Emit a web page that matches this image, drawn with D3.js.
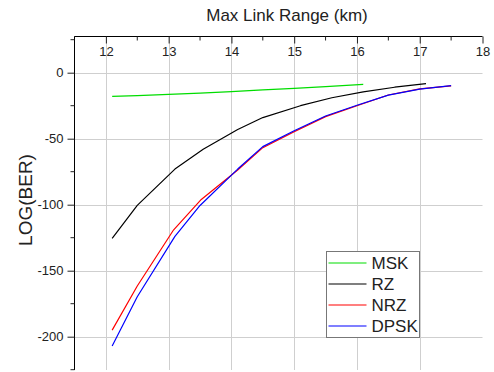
<!DOCTYPE html>
<html>
<head>
<meta charset="utf-8">
<script src="https://cdn.jsdelivr.net/npm/d3@7/dist/d3.min.js"></script>
<style>
  html, body { margin: 0; padding: 0; background: #fff; }
  svg { display: block; font-family: Arial, "Liberation Sans", sans-serif; }
</style>
</head>
<body>
<svg id="chart" width="494" height="372"></svg>
<script>
// Bit error rate (log scale) versus maximum link range for four modulation formats
const xTicks = [12, 13, 14, 15, 16, 17, 18];
const yTicks = [0, -50, -100, -150, -200];

const mskRange = [12.1, 12.5, 13.0, 13.5, 14.0, 14.5, 15.0, 15.5, 16.1];
const mskBer   = [-18, -17.3, -16.4, -15.4, -14.3, -13.0, -11.8, -10.5, -8.8];

const rzRange = [12.1, 12.5, 13.1, 13.55, 14.1, 14.5, 15.1, 15.6, 16.1, 16.6, 17.1];
const rzBer   = [-125.5, -100.5, -73, -58, -43, -34, -25, -19, -14.5, -11, -8.3];

const nrzRange = [12.1, 12.5, 13.08, 13.52, 14.1, 14.5, 15.0, 15.5, 16.0, 16.5, 17.0, 17.5];
const nrzBer   = [-195, -161.6, -119, -96, -73.7, -56.8, -44.7, -33.3, -25, -16.9, -12.3, -10];

const dpskRange = [12.1, 12.5, 13.1, 13.5, 14.1, 14.5, 15.0, 15.5, 16.0, 16.5, 17.0, 17.5];
const dpskBer   = [-207, -169.7, -124, -100.6, -73, -56, -44, -32.8, -24.7, -17, -12.5, -9.8];

const seriesNames  = ["MSK", "RZ", "NRZ", "DPSK"];
const seriesColors = ["#00dd00", "#000000", "#ff0000", "#0000ff"];

const series = [
  { name: seriesNames[0], color: seriesColors[0], x: mskRange,  y: mskBer },
  { name: seriesNames[1], color: seriesColors[1], x: rzRange,   y: rzBer },
  { name: seriesNames[2], color: seriesColors[2], x: nrzRange,  y: nrzBer },
  { name: seriesNames[3], color: seriesColors[3], x: dpskRange, y: dpskBer }
];

const svg = d3.select("#chart");
const plotLeft = 74.5, plotRight = 482.5, plotTop = 36.5, plotBottom = 370;

const x = d3.scaleLinear().domain([11.5, 18]).range([plotLeft, plotRight]);
const y = d3.scaleLinear().domain([0, -200]).range([72.7, 336.7]);

// plain hyphen-minus labels
const fmt = d => String(d);

// grid
const grid = svg.append("g");
grid.selectAll("line.v").data(xTicks.slice(0, -1)).join("line").attr("class", "v")
  .attr("x1", d => Math.round(x(d)) + 0.5).attr("x2", d => Math.round(x(d)) + 0.5)
  .attr("y1", plotTop).attr("y2", plotBottom)
  .attr("stroke", "#cfcfcf").attr("stroke-width", 1);
grid.selectAll("line.h").data(yTicks).join("line").attr("class", "h")
  .attr("y1", d => Math.round(y(d)) + 0.5).attr("y2", d => Math.round(y(d)) + 0.5)
  .attr("x1", plotLeft).attr("x2", plotRight)
  .attr("stroke", "#cfcfcf").attr("stroke-width", 1);

// series lines
svg.append("clipPath").attr("id", "plot")
  .append("rect").attr("x", plotLeft).attr("y", plotTop)
  .attr("width", plotRight - plotLeft).attr("height", plotBottom - plotTop);
const lineGen = d3.line().x(d => x(d[0])).y(d => y(d[1]));
svg.append("g").attr("clip-path", "url(#plot)")
  .selectAll("path").data(series).join("path")
  .attr("d", s => lineGen(s.x.map((v, i) => [v, s.y[i]])))
  .attr("fill", "none").attr("stroke", s => s.color).attr("stroke-width", 1.2)
  .attr("stroke-linejoin", "round");

// top x axis: ticks point into the plot, labels below the line
const xAxis = d3.axisBottom(x).tickValues(xTicks).tickSize(7).tickPadding(3).tickFormat(fmt);
const xg = svg.append("g").attr("transform", `translate(0,${plotTop})`).call(xAxis);
xg.select(".domain").attr("d", `M${plotLeft},0H${plotRight}`).attr("stroke", "#000");
xg.selectAll(".tick text").attr("font-size", 13).attr("fill", "#222").attr("font-family", "Arial, 'Liberation Sans', sans-serif");
xg.selectAll(".tick line").attr("stroke", "#222");
const xMinor = d3.range(11.5, 18, 1);
xg.selectAll("line.minor").data(xMinor).join("line").attr("class", "minor")
  .attr("x1", d => x(d)).attr("x2", d => x(d)).attr("y1", 0).attr("y2", 4).attr("stroke", "#222");

// left y axis
const yAxis = d3.axisLeft(y).tickValues(yTicks).tickSize(7).tickPadding(4).tickFormat(fmt);
const yg = svg.append("g").attr("transform", `translate(${plotLeft},0)`).call(yAxis);
yg.select(".domain").attr("d", `M0,${plotTop}V${plotBottom}`).attr("stroke", "#000");
yg.selectAll(".tick text").attr("font-size", 13).attr("fill", "#222").attr("font-family", "Arial, 'Liberation Sans', sans-serif");
yg.selectAll(".tick line").attr("stroke", "#222");
const yMinor = [25, -25, -75, -125, -175, -225];
yg.selectAll("line.minor").data(yMinor).join("line").attr("class", "minor")
  .attr("y1", d => y(d)).attr("y2", d => y(d)).attr("x1", 0).attr("x2", -4).attr("stroke", "#222");

// titles
svg.append("text").attr("x", 287).attr("y", 21).attr("text-anchor", "middle")
  .attr("font-size", 17).attr("fill", "#222").text("Max Link Range (km)");
svg.append("text").attr("transform", "translate(32,200) rotate(-90)").attr("text-anchor", "middle")
  .attr("font-size", 19).attr("fill", "#222").text("LOG(BER)");

// legend
const lg = svg.append("g").attr("transform", "translate(326.5,251.5)");
lg.append("rect").attr("width", 93).attr("height", 86).attr("fill", "#fff").attr("stroke", "#777");
const rows = lg.selectAll("g").data(series).join("g")
  .attr("transform", (d, i) => `translate(0,${11.5 + i * 21})`);
rows.append("line").attr("x1", 2).attr("x2", 40).attr("stroke", d => d.color).attr("stroke-width", 1.2);
rows.append("text").attr("x", 45).attr("dy", "0.36em").attr("font-size", 17).attr("fill", "#222").text(d => d.name);
</script>
</body>
</html>
